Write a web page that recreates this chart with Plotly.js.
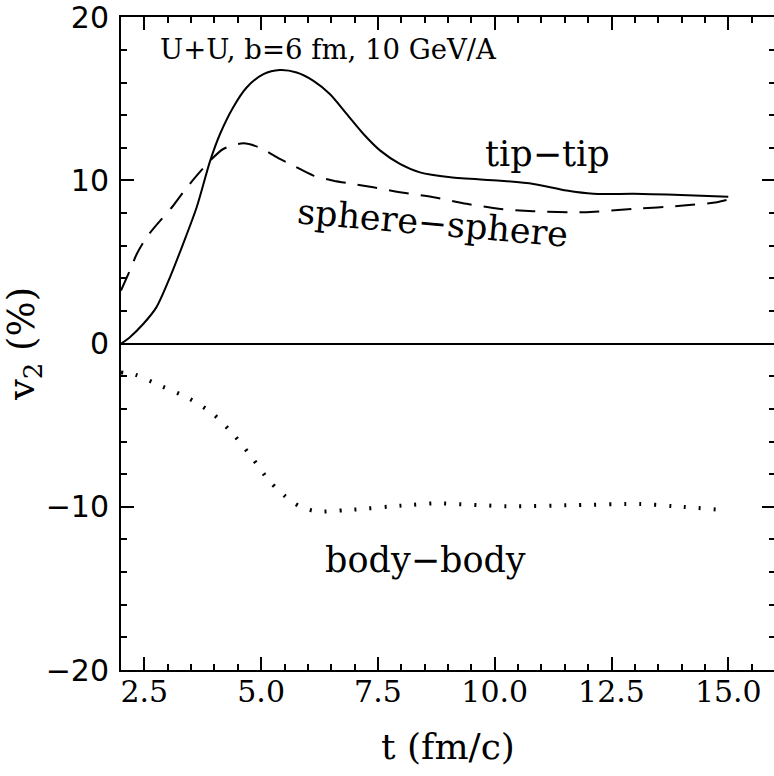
<!DOCTYPE html>
<html>
<head>
<meta charset="utf-8">
<script src="https://cdn.plot.ly/plotly-3.0.1.min.js"></script>
<style>
html, body { margin: 0; padding: 0; overflow: hidden; background: #fff; }
#chart { width: 777px; height: 776px; }
</style>
</head>
<body>
<div id="chart"></div>
<script>
// tip-tip (solid)
var tipX = [2.0, 2.19, 2.48, 2.76, 3.05, 3.33, 3.62, 3.91, 4.12, 4.40, 4.69, 5.05, 5.40, 5.76, 6.12, 6.47, 6.83, 7.19, 7.55, 7.97, 8.40, 9.05, 10.12, 10.83, 11.54, 12.11, 12.97, 13.69, 15.0];
var tipY = [0.0, 0.40, 1.22, 2.24, 4.08, 6.12, 8.36, 11.22, 12.85, 14.48, 15.70, 16.52, 16.77, 16.62, 16.11, 15.30, 14.08, 12.85, 11.83, 11.02, 10.50, 10.20, 9.99, 9.79, 9.38, 9.18, 9.18, 9.14, 9.01];
// sphere-sphere (dashed)
var sphX = [2.0, 2.19, 2.34, 2.55, 2.84, 3.09, 3.33, 3.62, 3.91, 4.19, 4.62, 4.98, 5.40, 5.69, 6.12, 6.55, 6.97, 7.40, 7.97, 8.69, 9.40, 10.12, 10.83, 11.90, 12.97, 14.04, 14.76, 15.0];
var sphY = [3.26, 4.49, 5.51, 6.52, 7.54, 8.36, 9.28, 10.30, 11.22, 11.93, 12.28, 12.00, 11.32, 10.91, 10.30, 9.99, 9.79, 9.58, 9.28, 8.97, 8.57, 8.26, 8.12, 8.05, 8.26, 8.46, 8.67, 8.83];
// body-body (dotted)
var bodX = [2.0, 2.30, 2.87, 3.45, 3.98, 4.42, 4.81, 5.18, 5.63, 5.90, 6.20, 6.83, 8.12, 8.72, 10.26, 11.69, 13.11, 13.82, 15.0];
var bodY = [-1.76, -1.90, -2.61, -3.35, -4.33, -5.61, -7.00, -8.43, -9.63, -10.06, -10.28, -10.20, -9.90, -9.79, -9.96, -9.90, -9.83, -9.96, -10.22];

// axis ticks
var xTickVals = [2.5, 5.0, 7.5, 10.0, 12.5, 15.0];
var xTickText = ["2.5", "5.0", "7.5", "10.0", "12.5", "15.0"];
var yTickVals = [-20, -10, 0, 10, 20];
var yTickText = ["\u221220", "\u221210", "0", "10", "20"];

var labels = ["U+U, b=6 fm, 10 GeV/A", "tip\u2212tip", "sphere\u2212sphere", "body\u2212body"];

var serif = "DejaVu Serif";
var traces = [
  {x: tipX, y: tipY, mode: "lines", line: {color: "#000", width: 2, shape: "spline", smoothing: 0.8}, hoverinfo: "skip"},
  {x: sphX, y: sphY, mode: "lines", line: {color: "#000", width: 2, shape: "spline", smoothing: 0.8, dash: "20px,12px"}, hoverinfo: "skip"},
  {x: bodX, y: bodY, mode: "lines", line: {color: "#000", width: 4, shape: "spline", smoothing: 0.8, dash: "2px,13px"}, hoverinfo: "skip"}
];

var layout = {
  width: 777, height: 776,
  margin: {l: 121, r: 2, t: 17, b: 106},
  paper_bgcolor: "#fff", plot_bgcolor: "#fff",
  showlegend: false,
  font: {family: serif, color: "#000"},
  xaxis: {
    range: [2, 16], tickmode: "array", tickvals: xTickVals, ticktext: xTickText,
    ticks: "inside", ticklen: 13, tickwidth: 2, tickcolor: "#000",
    minor: {dtick: 0.5, tick0: 2, ticks: "inside", ticklen: 6, tickwidth: 2, tickcolor: "#000"},
    showline: true, linewidth: 2, linecolor: "#000", mirror: "ticks",
    showgrid: false, zeroline: false,
    tickfont: {family: serif, size: 30, color: "#000"},
    ticklabelstandoff: -6, ticklabeloverflow: "allow",
    title: {text: "t (fm/c)", font: {family: serif, size: 36, color: "#000"}, standoff: 26}
  },
  yaxis: {
    range: [-20, 20.02], tickmode: "array", tickvals: yTickVals, ticktext: yTickText,
    ticks: "inside", ticklen: 13, tickwidth: 2, tickcolor: "#000",
    minor: {dtick: 2, tick0: 0, ticks: "inside", ticklen: 6, tickwidth: 2, tickcolor: "#000"},
    showline: true, linewidth: 2, linecolor: "#000", mirror: "ticks",
    showgrid: false, zeroline: true, zerolinewidth: 2, zerolinecolor: "#000",
    tickfont: {family: "DejaVu Sans", size: 30, color: "#000"},
    ticklabelstandoff: 4, ticklabeloverflow: "allow",
    title: {text: "v<sub>2</sub> (%)", font: {family: serif, size: 37, color: "#000"}, standoff: 8}
  },
  annotations: [
    {text: labels[0], x: 0.0566, y: 0.951, xref: "paper", yref: "paper", xanchor: "left", yanchor: "middle", showarrow: false, font: {family: serif, size: 27.5, color: "#000"}},
    {text: labels[1], x: 11.12, y: 11.65, xref: "x", yref: "y", xanchor: "center", yanchor: "middle", showarrow: false, font: {family: serif, size: 35, color: "#000"}},
    {text: labels[2], x: 8.67, y: 7.42, xref: "x", yref: "y", xanchor: "center", yanchor: "middle", showarrow: false, textangle: 5, font: {family: serif, size: 35, color: "#000"}},
    {text: labels[3], x: 8.51, y: -13.26, xref: "x", yref: "y", xanchor: "center", yanchor: "middle", showarrow: false, font: {family: serif, size: 35, color: "#000"}}
  ]
};

Plotly.newPlot("chart", traces, layout, {staticPlot: true, displayModeBar: false});
</script>
</body>
</html>
